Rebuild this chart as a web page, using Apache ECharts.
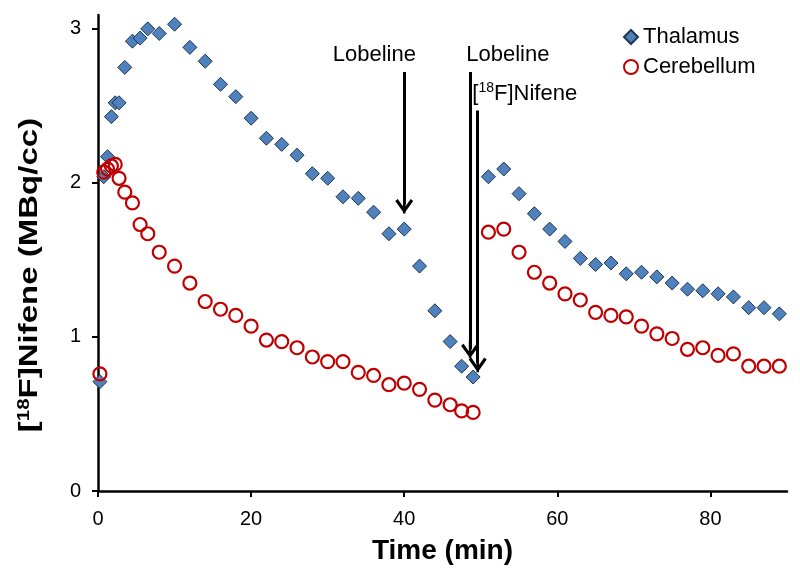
<!DOCTYPE html>
<html>
<head>
<meta charset="utf-8">
<script src="https://cdn.jsdelivr.net/npm/echarts@6/dist/echarts.min.js"></script>
<style>
html,body{margin:0;padding:0;background:#fff;}
#chart{width:800px;height:583px;}
</style>
</head>
<body>
<div id="chart"></div>
<script>
var times = [0.25, 0.75, 1.25, 1.75, 2.25, 2.75, 3.5, 4.5, 5.5, 6.5, 8, 10, 12, 14, 16, 18, 20, 22, 24, 26, 28, 30, 32, 34, 36, 38, 40, 42, 44, 46, 47.5, 49, 51, 53, 55, 57, 59, 61, 63, 65, 67, 69, 71, 73, 75, 77, 79, 81, 83, 85, 87, 89];
var thalamus = [0.71, 2.04, 2.17, 2.43, 2.52, 2.52, 2.75, 2.92, 2.94, 3.00, 2.97, 3.03, 2.88, 2.79, 2.64, 2.56, 2.42, 2.29, 2.25, 2.18, 2.06, 2.03, 1.91, 1.90, 1.81, 1.67, 1.70, 1.46, 1.17, 0.97, 0.81, 0.74, 2.04, 2.09, 1.93, 1.80, 1.70, 1.62, 1.51, 1.47, 1.48, 1.41, 1.42, 1.39, 1.35, 1.31, 1.30, 1.28, 1.26, 1.19, 1.19, 1.15];
var cerebellum = [0.76, 2.07, 2.09, 2.11, 2.12, 2.03, 1.94, 1.87, 1.73, 1.67, 1.55, 1.46, 1.35, 1.23, 1.18, 1.14, 1.07, 0.98, 0.97, 0.93, 0.87, 0.84, 0.84, 0.77, 0.75, 0.69, 0.70, 0.66, 0.59, 0.56, 0.52, 0.51, 1.68, 1.70, 1.55, 1.42, 1.35, 1.28, 1.24, 1.16, 1.14, 1.13, 1.07, 1.02, 0.99, 0.92, 0.93, 0.88, 0.89, 0.81, 0.81, 0.81];
var xTicks = [0, 20, 40, 60, 80];
var yTicks = [0, 1, 2, 3];
var seriesNames = ['Thalamus', 'Cerebellum'];
var xTitle = 'Time (min)';
var yTitle = '[{sup|18}F]Nifene (MBq/cc)';
// annotations: [x, y, text, align]
var annotLabels = [[36.1, 2.83, 'Lobeline', 'center'], [48.1, 2.83, 'Lobeline', 'left'], [48.9, 2.58, '[{sup|18}F]Nifene', 'left']];
// arrows: [x, yStart, yEnd]
var arrows = [[40, 2.72, 1.86], [48.6, 2.72, 0.92], [49.6, 2.47, 0.83]];

var FONT = '"Liberation Sans", Arial, sans-serif';
function zip(a, b) { return a.map(function (v, i) { return [v, b[i]]; }); }

var chart = echarts.init(document.getElementById('chart'), null, {renderer: 'canvas'});
var arrowPath = 'path://M10 0 L20 14 L17.2 16.2 L10 6 L2.8 16.2 L0 14 Z M8.6 0 L11.4 0 L11.4 20 L8.6 20 Z';

var option = {
  animation: false,
  backgroundColor: '#fff',
  grid: {left: 98, right: 13, top: 15, bottom: 92, containLabel: false},
  xAxis: {
    type: 'value', min: 0, max: 90, interval: 20,
    axisLine: {show: true, onZero: false, lineStyle: {color: '#000', width: 2.5}},
    axisTick: {show: true, length: 6, lineStyle: {color: '#000', width: 2}, customValues: xTicks},
    axisLabel: {color: '#000', fontFamily: FONT, fontSize: 20, margin: 18, customValues: xTicks},
    splitLine: {show: false},
    name: xTitle, nameLocation: 'middle', nameGap: 46,
    nameTextStyle: {color: '#000', fontFamily: FONT, fontSize: 28, fontWeight: 'bold'}
  },
  yAxis: {
    type: 'value', min: 0, max: 3.09,
    axisLine: {show: true, onZero: false, lineStyle: {color: '#000', width: 2.5}},
    axisTick: {show: true, length: 6, lineStyle: {color: '#000', width: 2}, customValues: yTicks},
    axisLabel: {color: '#000', fontFamily: FONT, fontSize: 20, margin: 17, customValues: yTicks},
    splitLine: {show: false}
  },
  legend: {
    data: seriesNames, orient: 'vertical', left: 618, top: 20,
    itemWidth: 14, itemHeight: 14, itemGap: 6,
    textStyle: {color: '#000', fontFamily: FONT, fontSize: 22, lineHeight: 24}
  },
  graphic: [{
    type: 'text', x: 30, y: 275, rotation: Math.PI / 2, scaleX: 1.27, scaleY: 1, silent: true,
    style: {
      text: yTitle, fill: '#000', align: 'center', verticalAlign: 'middle',
      font: 'bold 26px ' + FONT,
      rich: {sup: {font: 'bold 16px ' + FONT, fill: '#000', verticalAlign: 'top', padding: [0, 0, 10, 0]}}
    }
  }],
  series: [
    {
      name: seriesNames[0], type: 'scatter', symbol: 'diamond', symbolSize: 14, z: 2,
      itemStyle: {color: '#4F81BD', borderColor: '#1F3550', borderWidth: 1, opacity: 1},
      data: zip(times, thalamus)
    },
    {
      name: seriesNames[1], type: 'scatter', symbol: 'circle', symbolSize: 13, z: 3,
      itemStyle: {color: 'rgba(255,255,255,0)', borderColor: '#C00000', borderWidth: 2.2, opacity: 1},
      data: zip(times, cerebellum)
    },
    {
      name: 'annot', type: 'scatter', symbolSize: 0, silent: true, z: 4,
      itemStyle: {opacity: 1},
      data: annotLabels.map(function (a) {
        return {value: [a[0], a[1]], label: {align: a[3], color: '#000'}};
      }),
      label: {
        show: true, position: [0, 0], verticalAlign: 'middle', color: '#000',
        textBorderWidth: 0, fontFamily: FONT, fontSize: 22,
        formatter: function (p) { return annotLabels[p.dataIndex][2]; },
        rich: {sup: {fontFamily: FONT, fontSize: 14, color: '#000', verticalAlign: 'top', padding: [0, 0, 10, 0]}}
      },
      markLine: {
        silent: true, animation: false,
        symbol: ['none', arrowPath], symbolSize: 18,
        label: {show: false},
        lineStyle: {color: '#000', width: 3, type: 'solid', opacity: 1},
        data: arrows.map(function (a) {
          return [{coord: [a[0], a[1]]}, {coord: [a[0], a[2]]}];
        })
      }
    }
  ]
};
chart.setOption(option);
</script>
</body>
</html>
